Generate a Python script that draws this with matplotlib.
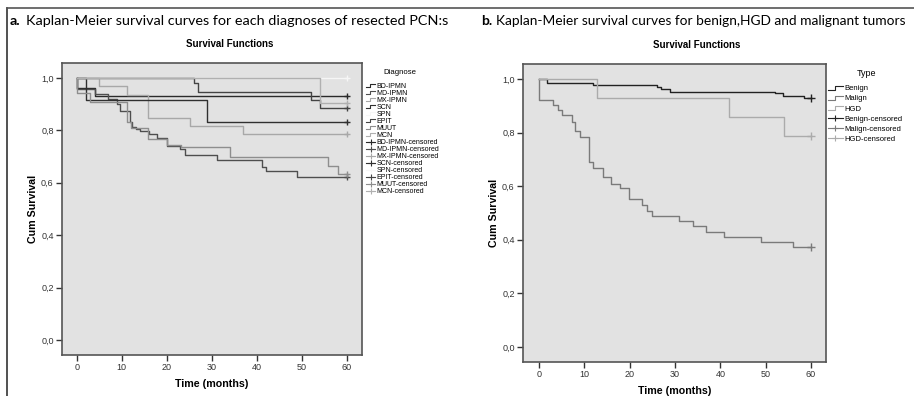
import matplotlib
matplotlib.use('Agg')
import matplotlib.pyplot as plt
from matplotlib.lines import Line2D
from matplotlib.legend_handler import HandlerBase
from matplotlib.ticker import FuncFormatter

plt.rcParams['font.family'] = ['Liberation Sans', 'DejaVu Sans']

# ---- panel a: survival by diagnosis (months, cum survival) ----
diag_names = ['BD-IPMN', 'MD-IPMN', 'MX-IPMN', 'SCN', 'SPN', 'EPIT', 'MUUT', 'MCN']

bd_ipmn_t = [0, 0, 4, 60]
bd_ipmn_s = [1.0, 0.96, 0.931, 0.931]
md_ipmn_t = [0, 0, 4.1, 7.0, 8.9, 9.5, 11.9, 12.2, 13.2, 14.1, 16.1, 17.9, 20.1, 23.0,
             24.1, 31.1, 41.1, 42.1, 49.0, 60]
md_ipmn_s = [1.0, 0.957, 0.938, 0.919, 0.899, 0.875, 0.833, 0.814, 0.805, 0.798, 0.786,
             0.770, 0.740, 0.728, 0.706, 0.687, 0.662, 0.645, 0.623, 0.623]
mx_ipmn_t = [0, 5, 11.1, 15.9, 25.2, 37.0, 60]
mx_ipmn_s = [1.0, 0.969, 0.935, 0.846, 0.818, 0.786, 0.786]
scn_t = [0, 2.1, 28.9, 60]
scn_s = [1.0, 0.916, 0.833, 0.833]
spn_t = [0, 60]
spn_s = [1.0, 1.0]
epit_t = [0, 26, 27, 52, 54, 60]
epit_s = [1.0, 0.98, 0.945, 0.916, 0.887, 0.887]
muut_t = [0, 0, 3, 11.1, 12, 15.9, 20, 23.1, 34.1, 55.9, 58.1, 60]
muut_s = [1.0, 0.941, 0.910, 0.833, 0.808, 0.766, 0.744, 0.735, 0.700, 0.664, 0.634, 0.634]
mcn_t = [0, 54, 60]
mcn_s = [1.0, 0.903, 0.903]

diag_colors = ['#2a2a2a', '#4e4e4e', '#a8a8a8', '#303030', '#f6f6f6', '#444444', '#8e8e8e', '#b0b0b0']

# ---- panel b: survival by tumour type ----
type_names = ['Benign', 'Malign', 'HGD']

benign_t = [0, 1.7, 12, 26, 26.9, 28.9, 52.1, 53.9, 58.4, 60]
benign_s = [1.0, 0.986, 0.979, 0.969, 0.961, 0.953, 0.946, 0.937, 0.928, 0.928]
malign_t = [0, 0, 3.2, 4.3, 5.2, 7.2, 7.9, 9.0, 11.1, 12.0, 14.1, 16.0, 17.9, 19.9, 22.8,
            23.9, 24.9, 31.0, 34.0, 36.9, 40.9, 49.0, 56.0, 60]
malign_s = [1.0, 0.922, 0.903, 0.884, 0.866, 0.841, 0.807, 0.785, 0.692, 0.667, 0.636, 0.608,
            0.592, 0.551, 0.530, 0.509, 0.490, 0.470, 0.450, 0.430, 0.412, 0.392, 0.372, 0.372]
hgd_t = [0, 12.9, 42, 54.1, 60]
hgd_s = [1.0, 0.928, 0.857, 0.786, 0.786]

type_colors = ['#222222', '#7a7a7a', '#ababab']

x_ticks = [0, 10, 20, 30, 40, 50, 60]
y_ticks = [0.0, 0.2, 0.4, 0.6, 0.8, 1.0]


class StepHandler(HandlerBase):
    def create_artists(self, legend, orig_handle, xdescent, ydescent, width, height, fontsize, trans):
        x0 = -xdescent
        xm = x0 + width * 0.45
        y0 = -ydescent + height * 0.15
        y1 = -ydescent + height * 0.85
        ln = Line2D([x0, xm, xm, x0 + width], [y0, y0, y1, y1],
                    color=orig_handle.get_color(), lw=0.8)
        ln.set_transform(trans)
        return [ln]


def style_axes(ax, xlim, ylim):
    ax.set_facecolor('#e2e2e2')
    ax.set_xlim(*xlim)
    ax.set_ylim(*ylim)
    ax.set_xticks(x_ticks)
    ax.set_yticks(y_ticks)
    ax.yaxis.set_major_formatter(FuncFormatter(lambda v, p: f'{v:.1f}'.replace('.', ',')))
    ax.tick_params(direction='out', length=4, width=1, colors='#333333', labelsize=6.5, pad=2)
    for sp in ax.spines.values():
        sp.set_color('#555555')
        sp.set_linewidth(1.2)
    ax.set_xlabel('Time (months)', fontsize=7.7, fontweight='bold', labelpad=5)
    ax.set_ylabel('Cum Survival', fontsize=7.7, fontweight='bold', labelpad=2.5)


fig = plt.figure(figsize=(9.14, 3.96), dpi=100)
W, H = 914.0, 396.0

# frame lines of the composite figure
fig.add_artist(Line2D([7.5 / W, 7.5 / W], [0, 1 - 8 / H], transform=fig.transFigure,
                      color='#333333', lw=1.2))
fig.add_artist(Line2D([7.5 / W, 1], [1 - 8 / H, 1 - 8 / H], transform=fig.transFigure,
                      color='#555555', lw=1.2))

# panel headings
fig.text(10 / W, 1 - 21 / H, 'a.', fontsize=10.4, fontweight='bold', family='Lato', va='center')
fig.text(26 / W, 1 - 21 / H, 'Kaplan-Meier survival curves for each diagnoses of resected PCN:s',
         fontsize=10.4, family='Lato', va='center')
fig.text(481 / W, 1 - 21 / H, 'b.', fontsize=10, fontweight='bold', family='Lato', va='center')
fig.text(496 / W, 1 - 21 / H, 'Kaplan-Meier survival curves for benign,HGD and malignant tumors',
         fontsize=9.9, family='Lato', va='center')

fig.text(230 / W, 1 - 44 / H, 'Survival Functions', fontsize=7, fontweight='bold',
         ha='center', va='center')
fig.text(697 / W, 1 - 45 / H, 'Survival Functions', fontsize=7, fontweight='bold',
         ha='center', va='center')

# ---- panel a ----
ax1 = fig.add_axes([62 / W, 1 - 355 / H, 300 / W, 292 / H])
style_axes(ax1, (-3.3, 63.4), (-0.057, 1.057))

a_times = [bd_ipmn_t, md_ipmn_t, mx_ipmn_t, scn_t, spn_t, epit_t, muut_t, mcn_t]
a_surv = [bd_ipmn_s, md_ipmn_s, mx_ipmn_s, scn_s, spn_s, epit_s, muut_s, mcn_s]

step_h, cens_h = [], []
for t, s, c in zip(a_times, a_surv, diag_colors):
    ln, = ax1.step(t, s, where='post', color=c, lw=1.0)
    ax1.plot([t[-1]], [s[-1]], marker='+', ms=5, mew=1.0, color=c, ls='none')
    step_h.append(ln)
    cens_h.append(Line2D([], [], color=c, lw=0.8, marker='+', ms=5, mew=0.8))

leg1 = ax1.legend(step_h + cens_h, diag_names + [n + '-censored' for n in diag_names],
                  handler_map={h: StepHandler() for h in step_h},
                  loc='upper left', bbox_to_anchor=(366 / W, 1 - 83 / H),
                  bbox_transform=fig.transFigure, frameon=False, fontsize=5,
                  handlelength=1.3, handletextpad=0.2, labelspacing=0.0,
                  borderpad=0, borderaxespad=0, numpoints=1)
fig.text(383 / W, 1 - 73 / H, 'Diagnose', fontsize=5.6, va='center')

# ---- panel b ----
ax2 = fig.add_axes([523 / W, 1 - 362 / H, 303 / W, 298 / H])
style_axes(ax2, (-3.5, 63.3), (-0.056, 1.056))

b_times = [benign_t, malign_t, hgd_t]
b_surv = [benign_s, malign_s, hgd_s]

step_h2, cens_h2 = [], []
for t, s, c in zip(b_times, b_surv, type_colors):
    ln, = ax2.step(t, s, where='post', color=c, lw=1.0)
    ax2.plot([t[-1]], [s[-1]], marker='+', ms=6, mew=1.0, color=c, ls='none')
    step_h2.append(ln)
    cens_h2.append(Line2D([], [], color=c, lw=0.8, marker='+', ms=5, mew=0.8))

leg2 = ax2.legend(step_h2 + cens_h2, type_names + [n + '-censored' for n in type_names],
                  handler_map={h: StepHandler() for h in step_h2},
                  loc='upper left', bbox_to_anchor=(828 / W, 1 - 85 / H),
                  bbox_transform=fig.transFigure, frameon=False, fontsize=5.5,
                  handlelength=1.9, handletextpad=0.2, labelspacing=0.36,
                  borderpad=0, borderaxespad=0, numpoints=1)
fig.text(857 / W, 1 - 74 / H, 'Type', fontsize=6.5, va='center')

fig.savefig('out.png', dpi=100)
